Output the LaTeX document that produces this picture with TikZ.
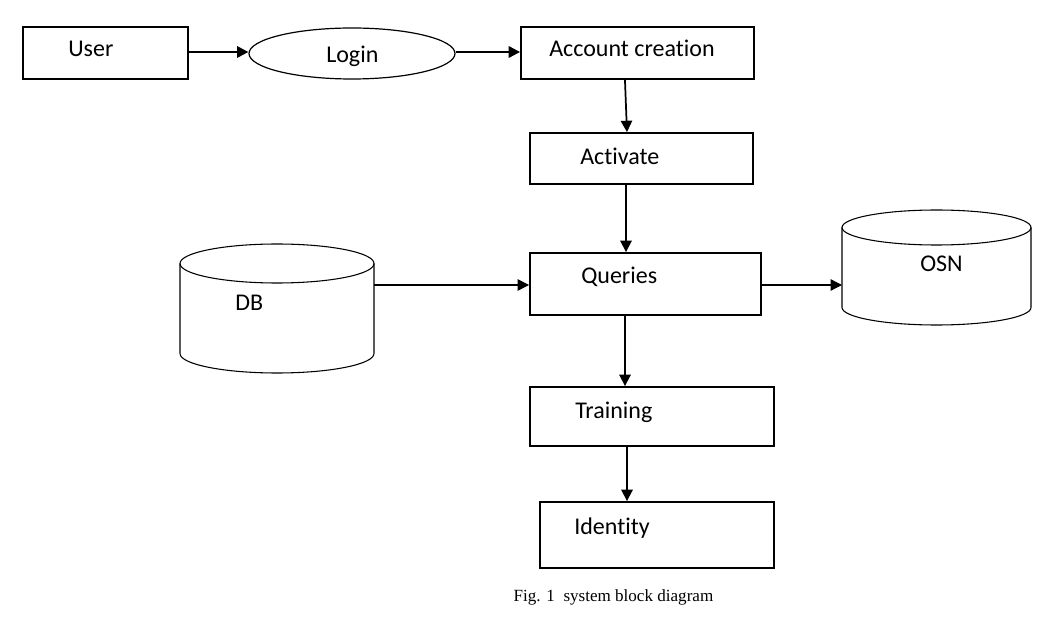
\documentclass[tikz,border=0pt]{standalone}
\usepackage{fontspec}
\setmainfont{Carlito}[RawFeature=-liga]
\newfontfamily\capfont{Liberation Serif}
\usetikzlibrary{arrows.meta,shapes.geometric}

\begin{document}
\begin{tikzpicture}[x=0.75pt,y=0.75pt,yscale=-1,xscale=1,
	box/.style={draw,line width=1.4pt,inner sep=0pt},
	oval/.style={draw,ellipse,line width=0.9pt,inner sep=0pt},
	cyl/.style={line width=0.8pt},
	lbl/.style={anchor=base west,inner sep=0pt,font=\fontsize{18}{22}\selectfont},
	arr/.style={line width=1.3pt,-{Triangle[length=8.5pt,width=8.5pt]}},
	thinarr/.style={line width=0.9pt,-{Triangle[length=8.5pt,width=8.5pt]}}]
	%set diagram to 1042 x 623
	\useasboundingbox (0,0) rectangle (1042,623);
	%Shape: Rectangle [id:user]
	\node[box,minimum width=123.75pt,minimum height=39pt] (user) at (105.5,53) {};
	%Shape: Ellipse [id:login]
	\node[oval,minimum width=154.5pt,minimum height=38.25pt] (login) at (352,53.5) {};
	%Shape: Rectangle [id:account]
	\node[box,minimum width=174.75pt,minimum height=39pt] (account) at (637.5,53) {};
	%Shape: Rectangle [id:activate]
	\node[box,minimum width=167.25pt,minimum height=38.25pt] (activate) at (641.5,158.5) {};
	%Shape: Rectangle [id:queries]
	\node[box,minimum width=173.25pt,minimum height=46.5pt] (queries) at (645.5,284) {};
	%Shape: Rectangle [id:training]
	\node[box,minimum width=183pt,minimum height=44.25pt] (training) at (652,416.5) {};
	%Shape: Rectangle [id:identity]
	\node[box,minimum width=175.5pt,minimum height=49.5pt] (identity) at (657,535) {};
	%Shape: Can [id:db]
	\draw[cyl] (277,263.5) ellipse [x radius=97,y radius=19.5];
	\draw[cyl] (180,263.5) -- (180,353.5) arc [start angle=180,end angle=0,x radius=97,y radius=19.5] -- (374,263.5);
	\coordinate (dbout) at (374,285);
	%Shape: Can [id:osn]
	\draw[cyl] (936.5,227.5) ellipse [x radius=94.5,y radius=17.5];
	\draw[cyl] (842,227.5) -- (842,307.5) arc [start angle=180,end angle=0,x radius=94.5,y radius=17.5] -- (1031,227.5);
	\coordinate (osnin) at (842,285);
	%Straight Lines
	\draw[arr,line width=1.6pt] (user.east |- 0,52) -- (login.west |- 0,52);
	\draw[arr,line width=1.6pt] (login.east |- 0,52) -- (account.west |- 0,52);
	\draw[arr] ([xshift=-9.4pt]account.south) -- ([xshift=-10.9pt]activate.north);
	\draw[arr] (626,0 |- activate.south) -- (626,0 |- queries.north);
	\draw[thinarr] (dbout) -- (queries.west |- dbout);
	\draw[thinarr] (queries.east |- osnin) -- (osnin);
	\draw[arr] (625,0 |- queries.south) -- (625,0 |- training.north);
	\draw[arr] (627,0 |- training.south) -- (627,0 |- identity.north);
	% Text Node
	\node[lbl] (usertxt) at (68,57) {User};
	% Text Node
	\node[lbl] (logintxt) at (326,62.5) {Login};
	% Text Node
	\node[lbl] (accounttxt) at (549,57) {Account creation};
	% Text Node
	\node[lbl] (activatetxt) at (580,165) {Activate};
	% Text Node
	\node[lbl] (queriestxt) at (581,284) {Queries};
	% Text Node
	\node[lbl] (trainingtxt) at (575,418) {Training};
	% Text Node
	\node[lbl] (identitytxt) at (574,534) {Identity};
	% Text Node
	\node[lbl] (dbtxt) at (235,311) {DB};
	% Text Node
	\node[lbl] (osntxt) at (920,272) {OSN};
	% Text Node
	\node[anchor=base,inner sep=0pt,font=\capfont\fontsize{12.8}{15}\selectfont] (caption) at (613.5,601) {Fig. 1\ \ system block diagram};
\end{tikzpicture}
\end{document}
